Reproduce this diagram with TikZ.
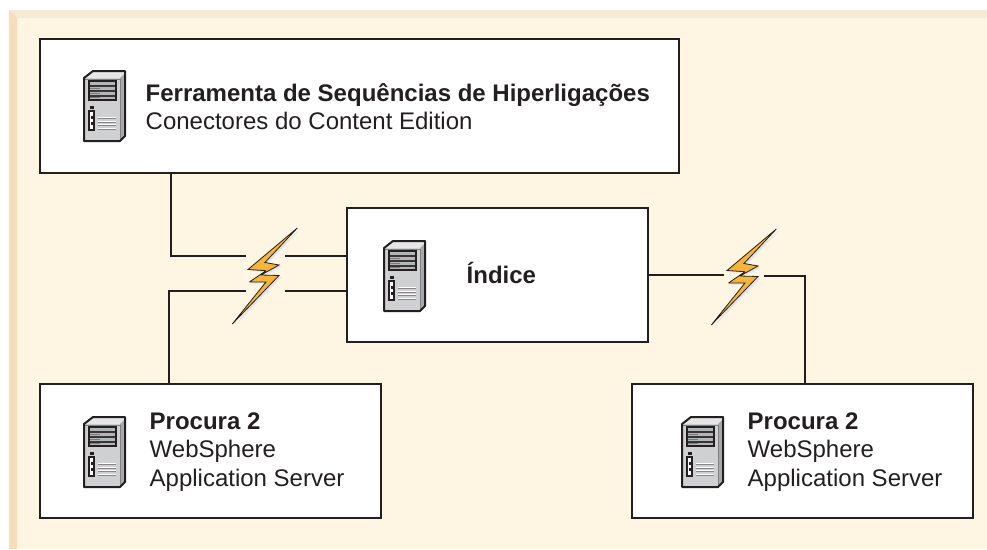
\documentclass[tikz,border=0pt]{standalone}
\usepackage{fontspec}
\setmainfont{Liberation Sans}
\definecolor{bgcream}{HTML}{FEF5E3}
\definecolor{bandtop}{HTML}{F6EAD6}
\definecolor{bandleft}{HTML}{F6DFB8}
\definecolor{ink}{HTML}{231F20}
\definecolor{boltfill}{HTML}{F6B53A}
\definecolor{boltshade}{HTML}{E2E3E6}
\definecolor{srvface}{HTML}{CFD0D2}
\definecolor{srvside}{HTML}{A7A9AC}
\definecolor{srvtop}{HTML}{E6E6E7}
\tikzset{
  x=1pt,y=-1pt,
  boxnode/.style={draw=ink,fill=white,line width=2pt,inner sep=0pt,outer sep=0pt,rectangle,anchor=north west},
  link/.style={draw=ink,line width=1.7pt},
  label/.style={anchor=base west,inner sep=0pt,font=\fontsize{24}{28}\selectfont,text=ink},
  boldlabel/.style={label,font=\fontsize{24}{28}\selectfont\bfseries},
  pics/server/.style={code={
    \fill[srvtop] (0,8) -- (9,1) -- (41,1) -- (41,9) -- cycle;
    \fill[srvface] (0,8) rectangle (36,71);
    \fill[srvside] (36,8) -- (41,3) -- (41,66) -- (36,71) -- cycle;
    \draw[srvside!70!ink,line width=.7pt] (1,9) -- (36,9) -- (36,70);
    \fill[srvface!85!ink] (5,11) rectangle (32,30);
    \draw[ink,line width=1.2pt] (5,11) rectangle (32,30);
    \foreach \yy in {15,20,25}{\fill[ink!90] (6,\yy) rectangle (31,\yy+1.6);}
    \foreach \yy in {17.5,22.5,27}{\fill[ink!60] (6,\yy) rectangle (16,\yy+1.4);}
    \fill[ink] (6,36) rectangle (10,39);
    \draw[ink,fill=white,line width=1.2pt] (5,41) rectangle (10,60);
    \fill[ink] (6.5,46) rectangle (8.5,49);
    \fill[ink] (6.5,52) rectangle (8.5,55);
    \foreach \yy in {47,50.5,54,57.5}{\fill[white] (14,\yy) rectangle (32,\yy+1.4);}
    \foreach \yy in {48.3,51.8,55.3,58.8}{\fill[ink!55] (14,\yy) rectangle (32,\yy+.7);}
    \draw[ink,line width=2pt,line join=round] (0,8) -- (9,1) -- (41,1) -- (41,66) -- (36,71) -- (0,71) -- cycle;
  }},
  pics/bolt/.style={code={
    \fill[boltshade,shift={(2.5,1.5)}]
      (77.3,8) -- (28,49.5) -- (46,50.7) -- (29.5,62) -- (46,62) -- (12.3,104) -- (59,55.5) -- (41,55) -- (59,45) -- (45,42.5) -- cycle;
    \draw[ink,fill=boltfill,line width=.8pt,line join=miter,miter limit=3]
      (77.3,8) -- (28,49.5) -- (46,50.7) -- (29.5,62) -- (46,62) -- (12.3,104) -- (59,55.5) -- (41,55) -- (59,45) -- (45,42.5) -- cycle;
  }}
}
\begin{document}
\begin{tikzpicture}
\useasboundingbox (0,0) rectangle (987,549);
\fill[white] (0,0) rectangle (987,549);
\fill[bgcream] (9,10) rectangle (987,549);
\fill[bandtop] (9,10) -- (987,10) -- (987,18) -- (17,18) -- cycle;
\fill[bandleft] (9,10) -- (17,18) -- (17,549) -- (9,549) -- cycle;

\coordinate (ta) at (171,256);
\coordinate (tb) at (169,291);
\coordinate (gl1) at (246,256);
\coordinate (gr1) at (285,256);
\coordinate (gl2) at (246,291);
\coordinate (gr2) at (285,291);
\coordinate (gl3) at (724,275);
\coordinate (gr3) at (764,276);
\coordinate (td) at (805,276);

\node[boxnode,minimum width=639pt,minimum height=134pt] (tool) at (40,39) {};
\node[boxnode,minimum width=301pt,minimum height=134pt] (index) at (347,208) {};
\node[boxnode,minimum width=341pt,minimum height=134pt] (searchL) at (40,384) {};
\node[boxnode,minimum width=341pt,minimum height=134pt] (searchR) at (632,384) {};

\draw[link] (tool.south -| ta) -- (ta) -- (gl1);
\draw[link] (gr1) -- (index.west |- gr1);
\draw[link] (searchL.north -| tb) -- (tb) -- (gl2);
\draw[link] (gr2) -- (index.west |- gr2);
\draw[link] (index.east |- gl3) -- (gl3);
\draw[link] (gr3) -- (td) -- (searchR.north -| td);

\pic at (220,220) {bolt};
\pic at (699,221) {bolt};

\pic at (84,70) {server};
\pic at (384,240) {server};
\pic at (84,416) {server};
\pic at (682,416) {server};

\node[boldlabel] (t1) at (145.5,101) {Ferramenta de Sequências de Hiperligações};
\node[label] (t2) at (145.5,129) {Conectores do Content Edition};
\node[boldlabel] (t3) at (466.5,283) {Índice};
\node[boldlabel] (t4) at (149.5,429) {Procura 2};
\node[label] (t5) at (149.5,457) {WebSphere};
\node[label] (t6) at (149.5,486) {Application Server};
\node[boldlabel] (t7) at (747.5,429) {Procura 2};
\node[label] (t8) at (747.5,457) {WebSphere};
\node[label] (t9) at (747.5,486) {Application Server};
\end{tikzpicture}
\end{document}
